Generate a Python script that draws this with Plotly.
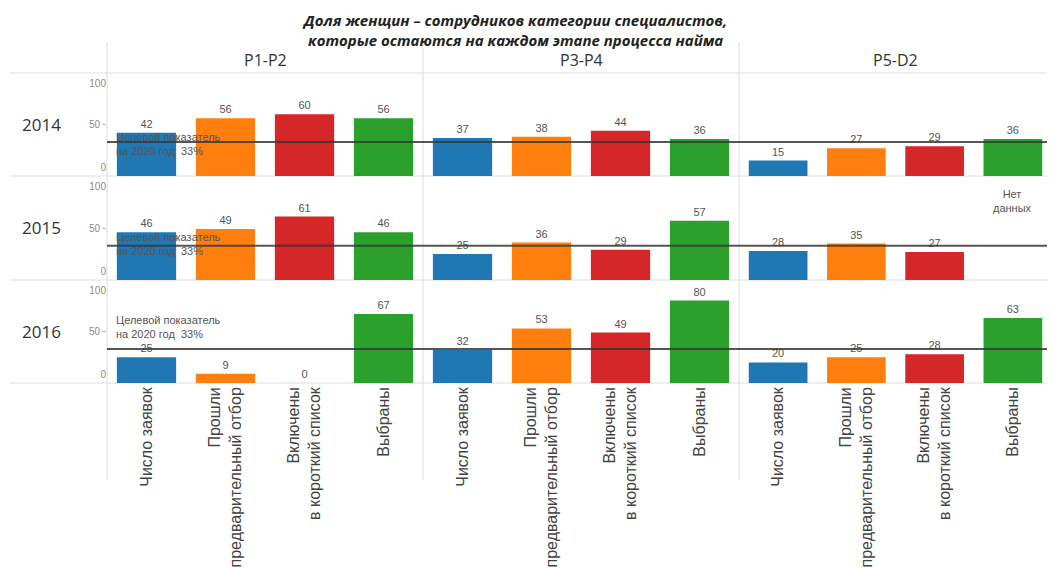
import plotly.graph_objects as go

# ---------------- data ----------------
years = ["2014", "2015", "2016"]
grades = ["P1-P2", "P3-P4", "P5-D2"]
stages = ["Число заявок", "Прошли<br>предварительный отбор",
          "Включены<br>в короткий список", "Выбраны"]
stage_colors = ["#1f77b4", "#ff7f0e", "#d62728", "#2ca02c"]

y2014_p1p2 = [42, 56, 60, 56]
y2014_p3p4 = [37, 38, 44, 36]
y2014_p5d2 = [15, 27, 29, 36]

y2015_p1p2 = [46, 49, 61, 46]
y2015_p3p4 = [25, 36, 29, 57]
y2015_p5d2 = [28, 35, 27, None]

y2016_p1p2 = [25, 9, 0, 67]
y2016_p3p4 = [32, 53, 49, 80]
y2016_p5d2 = [20, 25, 28, 63]

target_value = 33
target_text = "Целевой показатель<br>на 2020 год  33%"
no_data_text = "Нет<br>данных"
title_text = ("Доля женщин – сотрудников категории специалистов,<br>"
              "которые остаются на каждом этапе процесса найма")

grid = [
    [y2014_p1p2, y2014_p3p4, y2014_p5d2],
    [y2015_p1p2, y2015_p3p4, y2015_p5d2],
    [y2016_p1p2, y2016_p3p4, y2016_p5d2],
]

# ---------------- layout geometry (page pixels) ----------------
OFF = 8                 # default body margin of the page
W, H = 1055 - OFF, 568 - OFF
col_px = [(107, 423), (423, 739), (739, 1052)]
row_px = [(73, 176), (176, 280), (280, 383)]
target_label_y = [31, 35, 54]


def px_x(v):
    return (v - OFF) / W


def px_y(v):
    return 1 - (v - OFF) / H


fig = go.Figure()
layout = {}
shapes = []
annotations = []
tick_font = dict(size=10, color="#8a8a8a", family="Liberation Sans")
extra = 10

for r in range(3):
    for c in range(3):
        idx = r * 3 + c + 1
        xa = "x" if idx == 1 else f"x{idx}"
        ya = "y" if idx == 1 else f"y{idx}"
        vals = grid[r][c]
        texts = ["" if v is None else str(v) for v in vals]
        fig.add_trace(go.Bar(
            x=stages, y=vals, text=texts, textposition="outside",
            marker=dict(color=stage_colors, line=dict(width=0)),
            textfont=dict(size=11, color="#555555", family="Liberation Sans"),
            cliponaxis=False, xaxis=xa, yaxis=ya, showlegend=False,
            hoverinfo="x+y",
        ))
        xkey = "xaxis" if idx == 1 else f"xaxis{idx}"
        ykey = "yaxis" if idx == 1 else f"yaxis{idx}"
        ydom = [px_y(row_px[r][1]), px_y(row_px[r][0])]
        layout[xkey] = dict(
            domain=[px_x(col_px[c][0]), px_x(col_px[c][1])],
            anchor=ya, showgrid=False, zeroline=False, showline=False,
            showticklabels=(r == 2), tickangle=-90, automargin=False,
            tickfont=dict(size=16, color="#444444", family="Liberation Sans"),
            ticks="", fixedrange=True,
        )
        layout[ykey] = dict(
            domain=ydom, anchor=xa, range=[0, 100], showgrid=False,
            zeroline=False, showline=False, showticklabels=(c == 0),
            tickvals=[50], ticks="outside" if c == 0 else "", ticklen=4,
            tickcolor="#bbbbbb", tickfont=tick_font,
            automargin=False, fixedrange=True,
        )
        if c == 0:
            # end labels of the value axis, nudged inside the row
            for tv, shift in [(100, 10), (0, -9)]:
                yk = f"yaxis{extra}"
                yn = f"y{extra}"
                layout[yk] = dict(
                    domain=ydom, anchor=xa, overlaying=ya, range=[0, 100],
                    showgrid=False, zeroline=False, showline=False,
                    tickvals=[tv], ticks="", ticklabelshift=shift,
                    tickfont=tick_font, automargin=False, fixedrange=True,
                )
                fig.add_trace(go.Scatter(
                    x=[stages[0]], y=[None], xaxis=xa, yaxis=yn,
                    mode="markers", showlegend=False, hoverinfo="skip",
                ))
                extra += 1
            # target line across the full row
            shapes.append(dict(
                type="line", xref="paper", yref=ya,
                x0=px_x(107), x1=1, y0=target_value, y1=target_value,
                line=dict(color="rgba(55,55,55,0.85)", width=2), layer="above",
            ))
            annotations.append(dict(
                xref="paper", yref=ya, x=px_x(114),
                y=target_label_y[r],
                text=target_text, showarrow=False, xanchor="left",
                yanchor="middle", align="left",
                font=dict(size=11, color="#555555", family="Liberation Sans"),
            ))
            # year label
            annotations.append(dict(
                xref="paper", yref="paper", x=px_x(41),
                y=px_y((row_px[r][0] + row_px[r][1]) / 2),
                text=years[r], showarrow=False, xanchor="center",
                yanchor="middle",
                font=dict(size=17, color="#333333", family="Open Sans"),
            ))
        if r == 0:
            annotations.append(dict(
                xref="paper", yref="paper",
                x=px_x((col_px[c][0] + col_px[c][1]) / 2), y=px_y(60),
                text=grades[c], showarrow=False, xanchor="center",
                yanchor="middle",
                font=dict(size=16, color="#333333", family="Open Sans"),
            ))
        # "no data" note for missing bars
        for s, v in zip(stages, vals):
            if v is None:
                annotations.append(dict(
                    xref=xa, yref=ya, x=s, y=76, text=no_data_text,
                    showarrow=False, xanchor="center", yanchor="middle",
                    font=dict(size=11, color="#555555", family="Liberation Sans"),
                ))

# separators
for yp in [73, 176, 280, 383]:
    shapes.append(dict(type="line", xref="paper", yref="paper",
                       x0=px_x(10), x1=1, y0=px_y(yp), y1=px_y(yp),
                       line=dict(color="#dddddd", width=1), layer="below"))
for xp in [107, 423, 739]:
    shapes.append(dict(type="line", xref="paper", yref="paper",
                       x0=px_x(xp), x1=px_x(xp), y0=px_y(42), y1=px_y(480),
                       line=dict(color="#dddddd", width=1), layer="below"))

annotations.append(dict(
    xref="paper", yref="paper", x=px_x(514), y=px_y(30), text=title_text,
    showarrow=False, xanchor="center", yanchor="middle",
    font=dict(size=15, color="#222222", family="Open Sans", weight="bold",
              style="italic"),
))

fig.update_layout(
    **layout,
    width=W, height=H,
    margin=dict(l=0, r=0, t=0, b=0),
    paper_bgcolor="white", plot_bgcolor="white",
    bargap=0.25, shapes=shapes, annotations=annotations,
    showlegend=False,
)

fig.write_html("out.html", config={"displayModeBar": False})
